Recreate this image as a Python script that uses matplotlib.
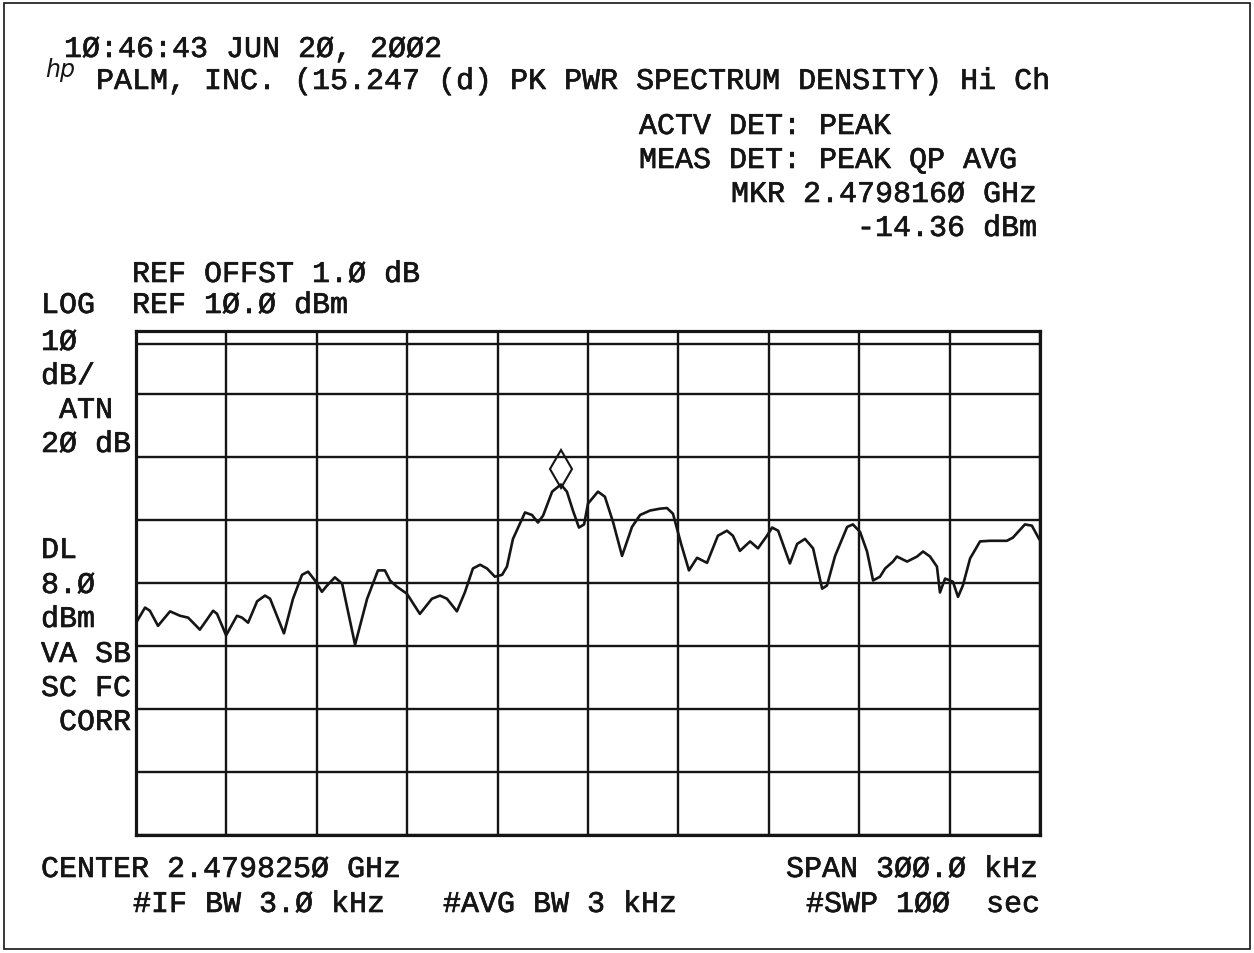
import matplotlib
matplotlib.use("Agg")
import matplotlib.pyplot as plt
import matplotlib.patheffects as pe
from matplotlib.patches import Rectangle
from matplotlib.transforms import ScaledTranslation

# ---- data (frequency offset from centre in kHz, level in dBm) ----
center_ghz = 2.4798250
span_khz = 300.0
ref_dbm = 10.0
db_per_div = 10.0
display_line_dbm = 8.0
marker_offset_khz = -9.0
marker_dbm = -14.36

freq_khz = [
    -149.7, -147.0, -145.4, -142.7, -138.7, -135.4, -132.7, -128.8, -124.4, -123.1,
    -120.1, -116.5, -114.8, -112.8, -109.8, -107.2, -105.5, -100.9, -97.9, -94.9,
    -92.9, -90.6, -88.3, -86.6, -84.0, -81.6, -77.3, -73.3, -69.7, -67.4,
    -65.7, -63.4, -60.1, -55.8, -51.8, -49.1, -46.8, -43.5, -40.8, -38.2,
    -35.8, -33.5, -30.9, -28.5, -26.9, -24.9, -20.9, -18.6, -16.6, -14.9,
    -11.9, -9.0, -7.0, -5.0, -3.0, -1.3, 0.0, 3.3, 5.6, 8.3,
    11.3, 14.6, 17.3, 20.6, 23.9, 26.2, 28.2, 30.9, 33.5, 36.2,
    39.5, 43.1, 46.1, 48.1, 50.4, 53.8, 56.4, 59.4, 61.1, 63.1,
    67.0, 69.4, 72.0, 74.7, 77.7, 79.3, 82.0, 86.0, 87.9, 90.3,
    92.6, 94.6, 96.9, 98.6, 101.2, 102.5, 105.9, 109.2, 111.2, 113.5,
    115.8, 116.8, 118.5, 120.1, 121.1, 122.8, 124.4, 126.8, 130.1, 133.4,
    139.0, 141.0, 145.0, 147.3, 149.7,
]
level_dbm = [
    -36.1, -33.9, -34.4, -36.8, -34.5, -35.2, -35.5, -37.4, -34.4, -34.9,
    -38.3, -35.2, -35.5, -36.3, -32.9, -32.0, -32.5, -38.0, -32.5, -28.7,
    -28.2, -29.6, -31.4, -30.4, -29.1, -30.1, -39.8, -32.5, -28.0, -28.0,
    -29.6, -30.6, -31.7, -34.9, -32.5, -32.0, -32.5, -34.5, -31.4, -27.7,
    -27.1, -27.7, -29.0, -28.7, -27.4, -23.0, -18.8, -19.2, -20.4, -19.3,
    -15.5, -14.36, -15.5, -18.5, -21.2, -20.7, -17.4, -15.5, -16.3, -20.3,
    -25.7, -21.1, -19.2, -18.5, -18.2, -18.1, -19.0, -23.8, -28.0, -26.0,
    -26.8, -22.5, -21.7, -22.5, -24.9, -23.4, -24.5, -22.5, -21.2, -21.7,
    -26.9, -23.8, -23.0, -24.5, -30.9, -30.4, -25.7, -21.1, -20.7, -21.9,
    -25.0, -29.6, -29.0, -27.7, -26.6, -25.8, -26.6, -25.8, -25.0, -25.8,
    -27.4, -31.5, -29.3, -29.6, -29.8, -32.2, -30.4, -26.1, -23.4, -23.3,
    -23.3, -22.8, -20.7, -20.9, -23.0,
]

# ---- figure ----
W, H = 1254, 954
fig = plt.figure(figsize=(W / 100, H / 100), dpi=100)
fig.patch.set_facecolor("white")

FONT = ["Liberation Mono", "DejaVu Sans Mono"]
FS = 21.6
INK = "#151515"
THICK = [pe.withStroke(linewidth=0.45, foreground=INK)]

ax = fig.add_axes([136 / W, 1 - 836 / H, (1040 - 136) / W, (836 - 332) / H])
ax.set_xlim(-span_khz / 2, span_khz / 2)
ax.set_ylim(ref_dbm - 8 * db_per_div, ref_dbm)
ax.set_xticks([-span_khz / 2 + i * span_khz / 10 for i in range(11)])
ax.set_yticks([ref_dbm - i * db_per_div for i in range(9)])
ax.tick_params(left=False, bottom=False, labelleft=False, labelbottom=False)
ax.grid(True, color=INK, linewidth=1.7)
ax.set_axisbelow(True)
for sp in ax.spines.values():
    sp.set_linewidth(2.3)
    sp.set_color(INK)

ax.axhline(display_line_dbm, color=INK, linewidth=1.7)
ax.plot(freq_khz, level_dbm, color=INK, linewidth=1.9, solid_joinstyle="round")

mk_tr = ax.transData + ScaledTranslation(0, 15.5 / 100, fig.dpi_scale_trans)
ax.plot([marker_offset_khz], [marker_dbm], marker="d", markersize=19.5,
        markerfacecolor="none", markeredgecolor=INK, markeredgewidth=1.5,
        transform=mk_tr, clip_on=False)


def T(x, y, s, ha="left", **kw):
    fig.text(x / W, 1 - y / H, s, ha=ha, va="baseline", fontsize=FS,
             family=FONT, color=INK, path_effects=THICK, **kw)


# header
T(64, 58, "1Ø:46:43 JUN 2Ø, 2ØØ2")
T(96, 90, "PALM, INC. (15.247 (d) PK PWR SPECTRUM DENSITY) Hi Ch")
fig.text(45 / W, 1 - 77 / H, "hp", fontsize=17, style="italic",
         family="DejaVu Sans", color=INK, va="baseline")

T(639, 135, "ACTV DET: PEAK")
T(639, 169, "MEAS DET: PEAK QP AVG")
T(1037, 203, "MKR 2.479816Ø GHz", ha="right")
T(1037, 237, "-14.36 dBm", ha="right")

T(132, 283, "REF OFFST 1.Ø dB")
T(41, 314, "LOG")
T(132, 314, "REF 1Ø.Ø dBm")

# left annotation column
T(41, 351, "1Ø")
T(41, 385, "dB/")
T(59, 419, "ATN")
T(41, 453, "2Ø dB")
T(41, 559, "DL")
T(41, 594, "8.Ø")
T(41, 628, "dBm")
T(41, 663, "VA SB")
T(41, 697, "SC FC")
T(59, 731, "CORR")

# footer
T(41, 878, "CENTER 2.479825Ø GHz")
T(1038, 878, "SPAN 3ØØ.Ø kHz", ha="right")
T(133, 913, "#IF BW 3.Ø kHz")
T(443, 913, "#AVG BW 3 kHz")
T(1040, 913, "#SWP 1ØØ  sec", ha="right")

# outer frame
fig.patches.append(Rectangle((4 / W, 4 / H), (1250 - 4) / W, (950 - 4) / H,
                             transform=fig.transFigure, fill=False,
                             edgecolor=INK, linewidth=1.2))

fig.savefig("out.png", dpi=100, facecolor="white")
